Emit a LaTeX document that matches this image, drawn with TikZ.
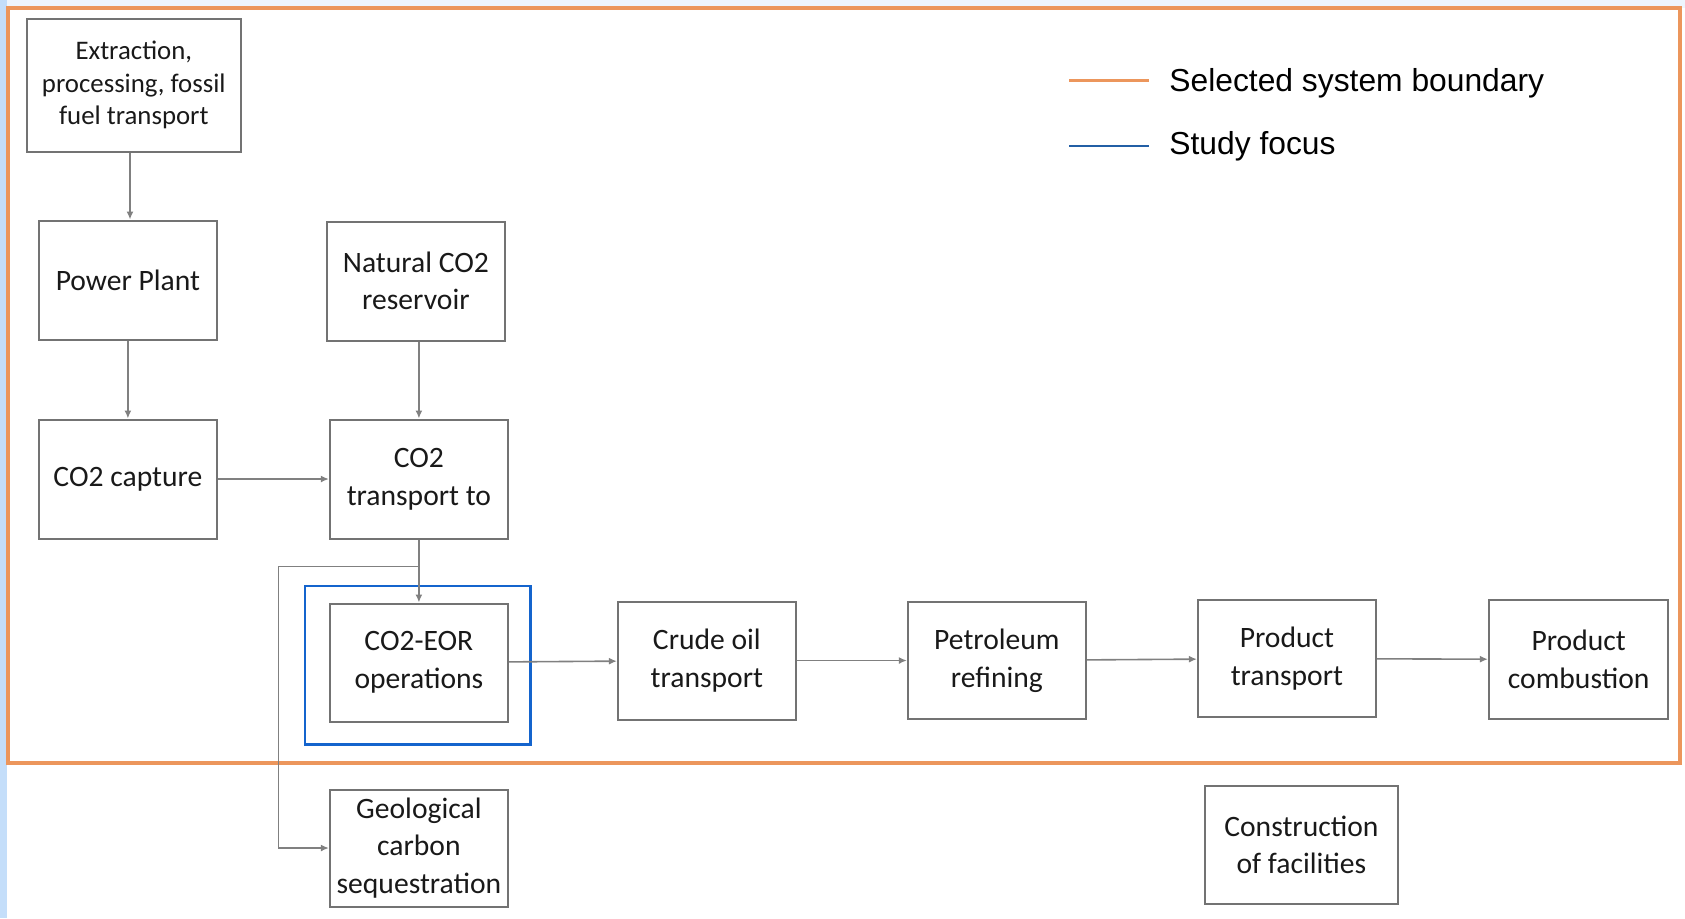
\documentclass[tikz,border=0pt]{standalone}
\usepackage{fontspec}
\setmainfont{Carlito}
\newfontfamily\legendfont{Liberation Sans}
\usetikzlibrary{arrows.meta,positioning,calc}
\definecolor{boundorange}{RGB}{236,150,92}
\definecolor{focusblue}{RGB}{20,100,205}
\definecolor{legblue}{RGB}{35,95,165}
\definecolor{stripblue}{RGB}{196,222,250}
\definecolor{paleblue}{RGB}{238,245,253}

\begin{document}
\begin{tikzpicture}[x=0.5pt,y=-0.5pt,
  box/.style={draw=black!55,line width=1pt,minimum width=89pt,minimum height=59.5pt,align=center,
    font=\fontsize{14.8}{18.8}\selectfont,text=black!90,inner sep=2pt},
  arr/.style={draw=black!50,line width=0.8pt,-{Latex[length=4pt,width=3.5pt]}},
  legtext/.style={anchor=west,font=\legendfont\fontsize{15.9}{18}\selectfont,inner sep=0pt}]
  \useasboundingbox (0,0) rectangle (1685,918);
  \fill[paleblue] (0,0) rectangle (1685,8);
  \fill[stripblue] (0,0) rectangle (7,918);

  % system boundary
  \draw[boundorange,line width=1.6pt] (8,8) rectangle (1680,763);

  % upper part
  \node[box,minimum width=107pt,minimum height=66.5pt,font=\fontsize{13.4}{16.4}\selectfont] (extr) at (133.8,85) {Extraction,\\processing, fossil\\fuel transport};
  \node[box] (power) at (127.9,280) {Power Plant};
  \node[box] (natural) at (415.9,281) {Natural CO2\\reservoir};
  \node[box,below=39pt of power] (capture) {CO2 capture};
  \node[box,right=55.5pt of capture] (transp) {CO2\\transport to};

  % main chain
  \node[box,below=31.5pt of transp,minimum height=59pt] (eor) {CO2-EOR\\operations};
  \node[box,right=54pt of eor,minimum height=59pt,yshift=1pt] (crude) {Crude oil\\transport};
  \node[box,right=55pt of crude,minimum height=58.5pt] (refin) {Petroleum\\refining};
  \node[box,right=55pt of refin,minimum height=58.5pt,yshift=1pt] (prodtr) {Product\\transport};
  \node[box,right=55.5pt of prodtr,minimum width=89.75pt,yshift=-0.5pt] (comb) {Product\\combustion};

  % outside boundary
  \node[box,below=33pt of eor,minimum height=58.5pt] (geo) {Geological\\carbon\\sequestration};
  \node[box,minimum width=96.75pt,minimum height=59pt] (constr) at (1301.4,845) {Construction\\of facilities};

  % study focus
  \draw[focusblue,line width=1.2pt] ($(eor.north west)+(-23.7,-16.5)$) rectangle ($(eor.south east)+(21.5,22)$);

  % connectors
  \draw[arr] (extr.south -| 130,0) -- (130,0 |- power.north);
  \draw[arr] (power) -- (capture);
  \draw[arr] (natural.south -| transp.north) -- (transp.north);
  \draw[arr] (capture) -- (transp);
  \draw[arr] (transp) -- (eor);
  \coordinate (bend) at (278.3,566.5);
  \coordinate (split) at (transp.south |- bend);
  \draw[arr] (split) -- (bend) |- (geo.west);
  \foreach \x/\y in {eor/crude,crude/refin,refin/prodtr,prodtr/comb} \draw[arr] (\x)--(\y);

  % legend
  \draw[boundorange,line width=1.3pt] (1069,80.5) coordinate (la) -- (1149,80.5) coordinate (lb);
  \node[legtext] (lsys) at (1169,83) {Selected system boundary};
  \draw[legblue,line width=1.3pt] (1069,146) coordinate (lc) -- (1149,146) coordinate (ld);
  \node[legtext] (lfoc) at (1169,146.5) {Study focus};
\end{tikzpicture}
\end{document}
